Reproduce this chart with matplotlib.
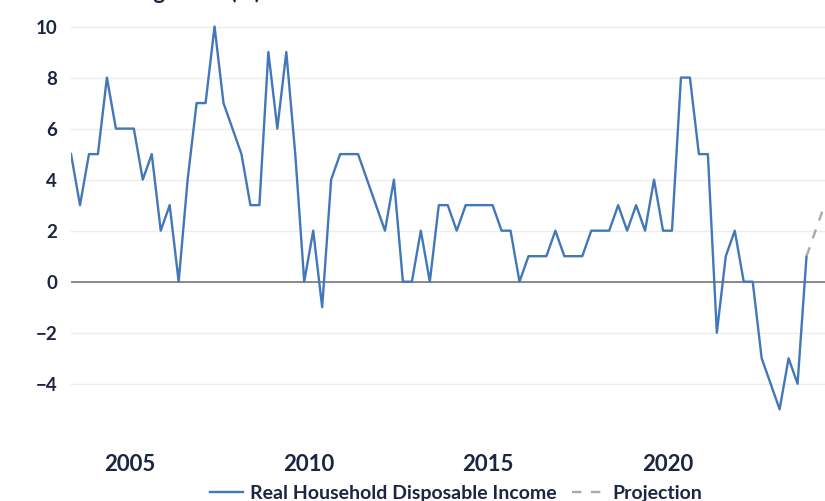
import matplotlib
matplotlib.use('Agg')
import matplotlib.pyplot as plt
from matplotlib.lines import Line2D

# quarterly series, first quarter 2003 Q2
start_year = 2003
start_quarter = 2
income = [5, 3, 5, 5, 8, 6, 6, 6, 4, 5, 2, 3, 0, 4, 7, 7, 10, 7, 6, 5,
          3, 3, 9, 6, 9, 5, 0, 2, -1, 4, 5, 5, 5, 4, 3, 2, 4, 0, 0, 2,
          0, 3, 3, 2, 3, 3, 3, 3, 2, 2, 0, 1, 1, 1, 2, 1, 1, 1, 2, 2,
          2, 3, 2, 3, 2, 4, 2, 2, 8, 8, 5, 5, -2, 1, 2, 0, 0, -3, -4, -5,
          -3, -4, 1]
projection = [1, 2, 3]
year_ticks = [2005, 2010, 2015, 2020]
y_ticks = [-4, -2, 0, 2, 4, 6, 8, 10]

# mid-quarter positions in fractional years
def qpos(i):
    return start_year + (start_quarter - 1) * 0.25 + 0.125 + i * 0.25

x_income = [qpos(i) for i in range(len(income))]
x_proj = [qpos(len(income) - 1 + i) for i in range(len(projection))]

navy = '#1c2541'
blue = '#4277b9'
grey = '#a9a9a9'

plt.rcParams['font.family'] = ['Lato', 'DejaVu Sans']
plt.rcParams['font.weight'] = 'bold'

fig = plt.figure(figsize=(8.25, 5.01), dpi=100)
ax = fig.add_axes([0.0861, 0.1321, 0.9139, 0.8659])

ax.plot(x_income, income, color=blue, lw=1.7, zorder=3)
ax.plot(x_proj, projection, color=grey, lw=1.7, dashes=(4, 4), zorder=3)
ax.axhline(0, color='#8a8a8a', lw=1.4, zorder=2)

ax.set_xlim(x_income[0], x_proj[-1] + 0.015)
ax.set_ylim(-6, 11)
ax.set_yticks(y_ticks)
ax.set_xticks(year_ticks)
ax.set_yticklabels(['\u2212' + str(-v) if v < 0 else str(v) for v in y_ticks])
ax.grid(axis='y', color='#ececec', lw=1.0, zorder=1)
ax.tick_params(axis='y', length=0, pad=10, labelsize=13.5, labelcolor=navy)
ax.tick_params(axis='x', length=0, pad=14, labelsize=16, labelcolor=navy)
for s in ax.spines.values():
    s.set_visible(False)

# title, cropped off the top as in the reference
fig.text(0.095, 1.0 + 1 / 501, 'Annual growth (%)', fontsize=16, color=navy,
         fontweight='bold', va='baseline', ha='left')

handles = [Line2D([], [], color=blue, lw=1.7),
           Line2D([], [], color=grey, lw=1.7, dashes=(4, 4))]
fig.legend(handles, ['Real Household Disposable Income', 'Projection'],
           loc='center', bbox_to_anchor=(456 / 825, 1 - 493 / 501), ncol=2,
           frameon=False, fontsize=14, labelcolor=navy, handlelength=1.7,
           handletextpad=0.36, columnspacing=0.8)

fig.savefig('out.png', dpi=100)
